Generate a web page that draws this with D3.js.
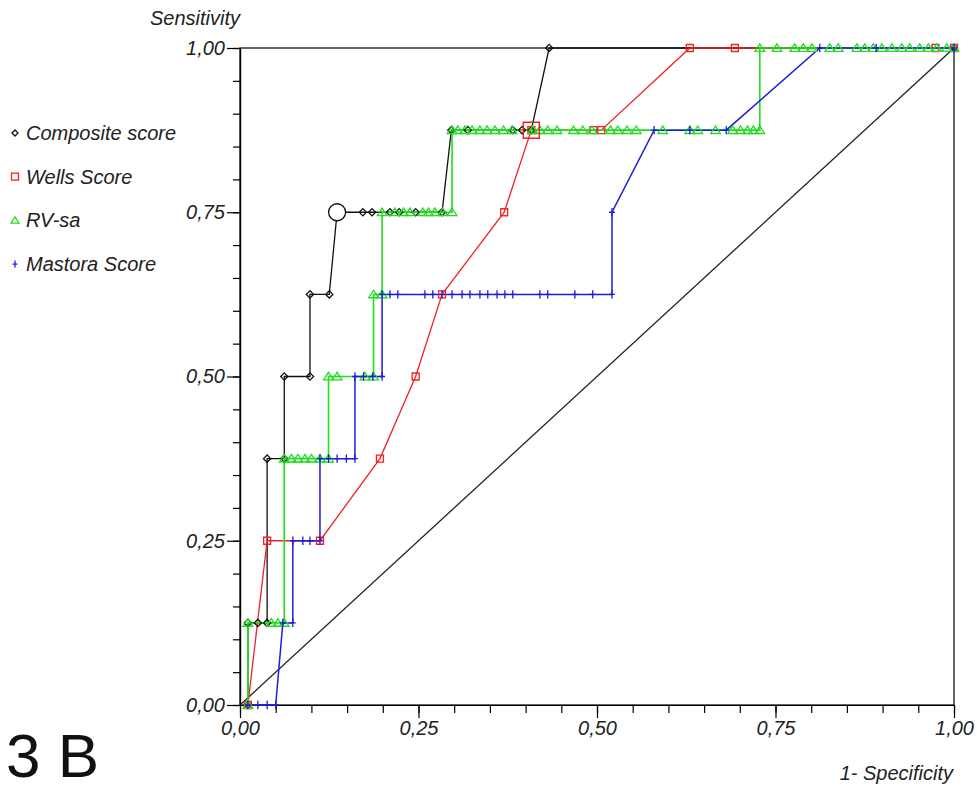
<!DOCTYPE html>
<html>
<head>
<meta charset="utf-8">
<script src="https://cdn.jsdelivr.net/npm/d3@7"></script>
<style>
  body { margin: 0; background: #fff; }
  text { font-family: "Liberation Sans", Arial, sans-serif; }
</style>
</head>
<body>
<div id="chart"></div>
<script>
// ROC points as [1-specificity, sensitivity]
var composite = [[0.011,0],[0.011,0.125],[0.025,0.125],[0.038,0.125],[0.038,0.375],[0.062,0.375],
  [0.062,0.5],[0.098,0.5],[0.098,0.625],[0.125,0.625],[0.136,0.75],[0.172,0.75],[0.185,0.75],
  [0.210,0.75],[0.223,0.75],[0.246,0.75],[0.283,0.75],[0.296,0.875],[0.319,0.875],[0.382,0.875],
  [0.395,0.875],[0.408,0.875],[0.433,1],[1,1]];

var wells = [[0.011,0],[0.038,0.25],[0.112,0.25],[0.196,0.375],[0.246,0.5],[0.283,0.625],
  [0.370,0.75],[0.408,0.875],[0.495,0.875],[0.506,0.875],[0.630,1],[0.693,1],[0.974,1],[1,1]];

var rvsa = [[0.011,0],[0.011,0.125],[0.044,0.125],[0.053,0.125],[0.062,0.125],
  [0.062,0.375],[0.072,0.375],[0.081,0.375],[0.091,0.375],[0.100,0.375],[0.112,0.375],[0.124,0.375],
  [0.124,0.5],[0.136,0.5],[0.175,0.5],[0.187,0.5],[0.187,0.625],[0.199,0.625],
  [0.199,0.75],[0.217,0.75],[0.229,0.75],[0.238,0.75],[0.256,0.75],[0.264,0.75],[0.273,0.75],[0.284,0.75],[0.297,0.75],
  [0.297,0.875],[0.305,0.875],[0.315,0.875],[0.325,0.875],[0.336,0.875],[0.346,0.875],[0.357,0.875],[0.369,0.875],
  [0.381,0.875],[0.410,0.875],[0.420,0.875],[0.431,0.875],[0.444,0.875],[0.467,0.875],[0.480,0.875],[0.493,0.875],
  [0.519,0.875],[0.529,0.875],[0.542,0.875],[0.555,0.875],[0.592,0.875],[0.630,0.875],[0.641,0.875],[0.666,0.875],
  [0.690,0.875],[0.701,0.875],[0.711,0.875],[0.719,0.875],[0.728,0.875],
  [0.728,1],[0.752,1],[0.777,1],[0.789,1],[0.801,1],[0.826,1],[0.838,1],[0.864,1],[0.875,1],[0.887,1],
  [0.899,1],[0.913,1],[0.927,1],[0.938,1],[0.952,1],[0.964,1],[0.976,1],[0.990,1],[1,1]];

var mastora = [[0.011,0],[0.025,0],[0.038,0],[0.050,0],[0.060,0.125],[0.074,0.125],
  [0.074,0.25],[0.088,0.25],[0.098,0.25],[0.112,0.25],[0.112,0.375],[0.124,0.375],[0.136,0.375],[0.149,0.375],[0.161,0.375],
  [0.161,0.5],[0.173,0.5],[0.186,0.5],[0.199,0.5],
  [0.199,0.625],[0.210,0.625],[0.221,0.625],[0.259,0.625],[0.270,0.625],[0.283,0.625],[0.297,0.625],[0.311,0.625],
  [0.322,0.625],[0.336,0.625],[0.347,0.625],[0.360,0.625],[0.371,0.625],[0.382,0.625],[0.420,0.625],[0.431,0.625],
  [0.469,0.625],[0.494,0.625],[0.521,0.625],[0.521,0.75],[0.580,0.875],[0.630,0.875],[0.681,0.875],
  [0.812,1],[0.891,1],[1,1]];

var compositeOpt = [0.136, 0.75];
var wellsOpt = [0.408, 0.875];

var seriesNames = ["Composite score", "Wells Score", "RV-sa", "Mastora Score"];
var tickValues = d3.range(0, 1.0001, 0.05);
var majorTicks = [0, 0.25, 0.5, 0.75, 1];

var colors = {composite: "#111", wells: "#ee2222", rvsa: "#22dd22", mastora: "#1d1dd8"};

var svg = d3.select("#chart").append("svg")
  .attr("width", 977).attr("height", 789);

var xScale = d3.scaleLinear().domain([0, 1]).range([240, 954]);
var yScale = d3.scaleLinear().domain([0, 1]).range([705, 48]);

var fmt = d3.formatLocale({decimal: ",", thousands: ".", grouping: [3], currency: ["", ""]}).format(".2f");

// minor ticks
svg.append("g").attr("transform", "translate(240,0)")
  .call(d3.axisLeft(yScale).tickValues(tickValues).tickSize(7).tickSizeOuter(0).tickFormat(""));
svg.append("g").attr("transform", "translate(0,705)")
  .call(d3.axisBottom(xScale).tickValues(tickValues).tickSize(8).tickSizeOuter(0).tickFormat(""));

// major ticks + labels
var yAx = svg.append("g").attr("transform", "translate(240,0)")
  .call(d3.axisLeft(yScale).tickValues(majorTicks).tickSize(13).tickSizeOuter(0).tickFormat(fmt));
var xAx = svg.append("g").attr("transform", "translate(0,705)")
  .call(d3.axisBottom(xScale).tickValues(majorTicks).tickSize(13).tickSizeOuter(0).tickFormat(fmt));

svg.selectAll(".tick text")
  .style("font-size", "20px").style("font-style", "italic").attr("fill", "#222");
yAx.selectAll(".tick text").attr("x", -15);
xAx.selectAll(".tick text").attr("y", 16);
svg.selectAll(".domain, .tick line").attr("stroke", "#000").attr("stroke-width", 1.2);

// frame
svg.append("rect")
  .attr("x", xScale(0)).attr("y", yScale(1))
  .attr("width", xScale(1) - xScale(0)).attr("height", yScale(0) - yScale(1))
  .attr("fill", "none").attr("stroke", "#000").attr("stroke-width", 1.2);

// diagonal
svg.append("line")
  .attr("x1", xScale(0)).attr("y1", yScale(0))
  .attr("x2", xScale(1)).attr("y2", yScale(1))
  .attr("stroke", "#222").attr("stroke-width", 1.3);

var line = d3.line()
  .x(function(d){ return xScale(d[0]); })
  .y(function(d){ return yScale(d[1]); });

var series = [
  {data: composite, color: colors.composite, shape: "diamond", w: 1.3},
  {data: wells, color: colors.wells, shape: "square", w: 1.3},
  {data: rvsa, color: colors.rvsa, shape: "triangle", w: 1.6},
  {data: mastora, color: colors.mastora, shape: "plus", w: 1.5}
];

function shapePath(shape, cx, cy, s) {
  if (shape == "diamond") return "M" + cx + "," + (cy - s) + "L" + (cx + s) + "," + cy + "L" + cx + "," + (cy + s) + "L" + (cx - s) + "," + cy + "Z";
  if (shape == "square") return "M" + (cx - s) + "," + (cy - s) + "h" + (2 * s) + "v" + (2 * s) + "h" + (-2 * s) + "Z";
  if (shape == "triangle") return "M" + cx + "," + (cy - s) + "L" + (cx + s * 1.15) + "," + (cy + s * 0.8) + "L" + (cx - s * 1.15) + "," + (cy + s * 0.8) + "Z";
  return "M" + cx + "," + (cy - s) + "v" + (2 * s) + "M" + (cx - s * 0.7) + "," + cy + "h" + (1.4 * s);
}

var markerSize = {diamond: 3.6, square: 3.5, triangle: 4.2, plus: 4.2};

series.forEach(function(s){
  svg.append("path").datum(s.data)
    .attr("d", line)
    .attr("fill", "none")
    .attr("stroke", s.color)
    .attr("stroke-width", s.w);
});

series.forEach(function(s){
  svg.append("g").selectAll("path")
    .data(s.data)
    .enter()
    .append("path")
      .attr("d", function(d){ return shapePath(s.shape, xScale(d[0]), yScale(d[1]), markerSize[s.shape]); })
      .attr("fill", "none")
      .attr("stroke", s.color)
      .attr("stroke-width", 1.3);
});

// optimal criterion markers
svg.append("circle")
  .attr("cx", xScale(compositeOpt[0])).attr("cy", yScale(compositeOpt[1])).attr("r", 8.5)
  .attr("fill", "#fff").attr("stroke", "#111").attr("stroke-width", 1.3);
svg.append("path")
  .attr("d", shapePath("square", xScale(wellsOpt[0]), yScale(wellsOpt[1]), 8))
  .attr("fill", "none").attr("stroke", colors.wells).attr("stroke-width", 1.5);

// legend
var legend = svg.append("g");
series.forEach(function(s, i){
  var ly = 133 + i * 43.7;
  legend.append("path")
    .attr("d", shapePath(s.shape, 15, ly, s.shape == "diamond" ? 3 : 3.5))
    .attr("fill", "none").attr("stroke", s.color).attr("stroke-width", 1.3);
  legend.append("text")
    .attr("x", 26).attr("y", ly + 7)
    .style("font-size", "20px").style("font-style", "italic").attr("fill", "#222")
    .text(seriesNames[i]);
});

// axis titles
svg.append("text").attr("x", 240).attr("y", 25).attr("text-anchor", "end")
  .style("font-size", "20px").style("font-style", "italic").attr("fill", "#222")
  .text("Sensitivity");
svg.append("text").attr("x", 953).attr("y", 780).attr("text-anchor", "end")
  .style("font-size", "20px").style("font-style", "italic").attr("fill", "#222")
  .text("1- Specificity");

svg.append("text").attr("x", 6).attr("y", 777)
  .style("font-size", "62px").attr("fill", "#111")
  .text("3 B");
</script>
</body>
</html>
